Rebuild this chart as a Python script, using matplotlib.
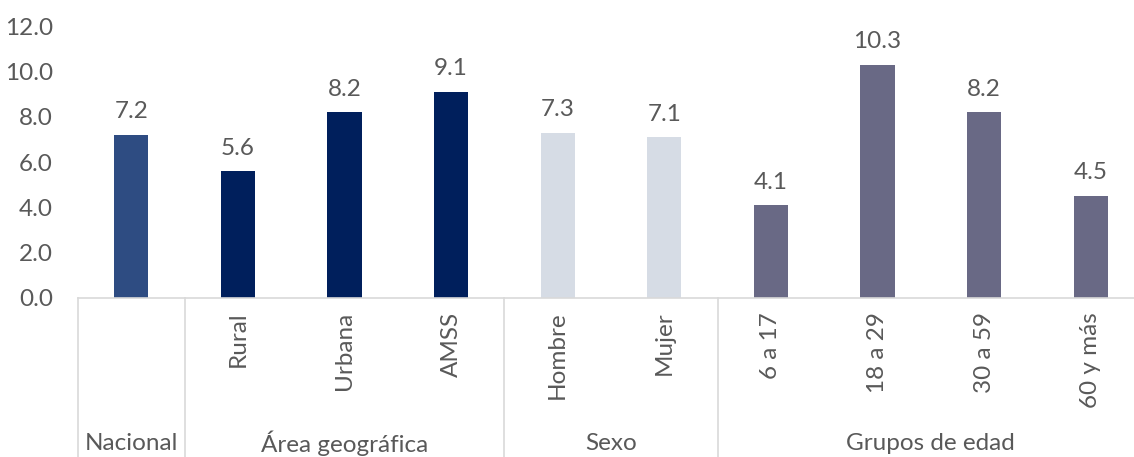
import matplotlib.pyplot as plt
import matplotlib.transforms as mtransforms
import numpy as np

# --- data ---
categories = ['Nacional', 'Rural', 'Urbana', 'AMSS', 'Hombre', 'Mujer',
              '6 a 17', '18 a 29', '30 a 59', '60 y más']
tick_labels = ['', 'Rural', 'Urbana', 'AMSS', 'Hombre', 'Mujer',
               '6 a 17', '18 a 29', '30 a 59', '60 y más']
values = [7.2, 5.6, 8.2, 9.1, 7.3, 7.1, 4.1, 10.3, 8.2, 4.5]
groups = ['Nacional', 'Área geográfica', 'Sexo', 'Grupos de edad']
group_sizes = [1, 3, 2, 4]
group_colors = ['#2E4C82', '#001F5C', '#D6DCE5', '#696985']

TEXT = '#595959'
GRID = '#D9D9D9'
FS = 17.5
plt.rcParams['font.family'] = ['Lato', 'DejaVu Sans']

fig = plt.figure(figsize=(11.34, 4.57), dpi=100)
ax = fig.add_axes([0.0688, 0.348, 0.940, 0.595])

x = np.arange(len(categories))
colors = []
for c, n in zip(group_colors, group_sizes):
    colors += [c] * n

ax.bar(x, values, width=0.32, color=colors, zorder=2)
for xi, v in zip(x, values):
    ax.annotate(f'{v:.1f}', (xi, v), xytext=(0, 9), textcoords='offset points',
                ha='center', va='bottom', fontsize=FS, color=TEXT)

ax.set_xlim(-0.5, len(categories) - 0.5)
ax.set_ylim(0, 12)
ax.set_yticks(np.arange(0, 12.1, 2))
ax.set_yticklabels([f'{t:.1f}' for t in np.arange(0, 12.1, 2)])
ax.tick_params(axis='y', length=0, labelsize=FS, labelcolor=TEXT, pad=18)
ax.set_xticks(x)
ax.set_xticklabels(tick_labels, rotation=90, va='top', ha='center')
ax.tick_params(axis='x', length=0, labelsize=FS, labelcolor=TEXT, pad=10)

for s in ['top', 'right', 'left']:
    ax.spines[s].set_visible(False)
ax.spines['bottom'].set_color(GRID)
ax.spines['bottom'].set_linewidth(1.2)

# group separators and group labels under the axis
trans = mtransforms.blended_transform_factory(ax.transData, ax.transAxes)
edges = np.concatenate([[0], np.cumsum(group_sizes)]) - 0.5
for e in edges[:-1]:
    ax.plot([e, e], [0, -0.6], color=GRID, lw=1.2, transform=trans, clip_on=False)
for g, a, b in zip(groups, edges[:-1], edges[1:]):
    ax.text((a + b) / 2, -0.535, g, transform=trans, ha='center', va='center',
            fontsize=FS, color=TEXT)

fig.savefig('out.png', dpi=100)
